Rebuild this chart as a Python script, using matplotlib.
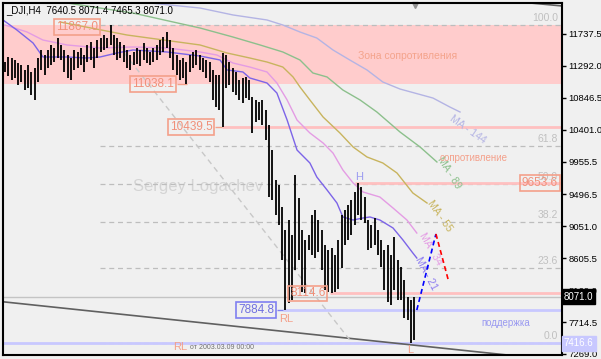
import matplotlib.pyplot as plt

plt.rcParams['font.family'] = ['Liberation Sans', 'DejaVu Sans']

header = '_DJI,H4  7640.5 8071.4 7465.3 8071.0'

# H4 bars, high / low per bar (oldest first)
highs = [11346, 11416, 11402, 11374, 11332, 11305, 11235, 11305, 11207, 11262,
         11402, 11514, 11444, 11514, 11584, 11542, 11681, 11584, 11514, 11444,
         11402, 11514, 11486, 11542, 11444, 11584, 11626, 11542, 11653, 11681,
         11723, 11681, 11867, 11723, 11681, 11626, 11584, 11514, 11444, 11486,
         11542, 11514, 11612, 11542, 11486, 11542, 11584, 11653, 11695, 11765,
         11653, 11542, 11444, 11374, 11402, 11346, 11444, 11486, 11514, 11444,
         11402, 11374, 11346, 11235, 11165, 11165, 11472, 11444, 11346, 11262,
         11207, 11095, 11123, 11137, 11095, 10857, 10816, 10788, 10816, 10676,
         10467, 10117, 9698, 9629, 9321, 9000, 9140, 8930, 9768, 9447,
         9000, 8861, 8930, 9210, 9280, 9140, 9000, 8791, 8721, 8749,
         8651, 8861, 9210, 9280, 9349, 9419, 9531, 9653.6, 9601, 9461,
         9140, 9070, 9168, 9000, 8861, 8721, 8791, 8651, 8903, 8581,
         8484, 8303, 8065, 8023, 8071.4]
lows = [11207, 11151, 11095, 11123, 11025, 11067, 10955, 10983, 10885, 10816,
        11067, 11235, 11165, 11262, 11305, 11346, 11402, 11374, 11207, 11123,
        11095, 11235, 11262, 11305, 11207, 11346, 11374, 11262, 11402, 11486,
        11514, 11542, 11584, 11444, 11374, 11402, 11346, 11262, 11235, 11305,
        11318, 11290, 11374, 11332, 11305, 11346, 11374, 11444, 11486, 11542,
        11402, 11235, 11165, 11095, 11123, 11038.1, 11207, 11262, 11305, 11235,
        11207, 11123, 11067, 10816, 10718, 10676, 10439.5, 10983, 11025, 10927,
        10885, 10816, 10774, 10843, 10816, 10355, 10508, 10536, 10467, 10257,
        9461, 9419, 9210, 9070, 8581, 7884.8, 7981, 8023, 8442, 8581,
        8134, 8114.6, 8721, 8651, 8609, 8693, 8442, 8162, 8140, 8114.6,
        8130, 8180, 8470, 8791, 8861, 8930, 9070, 9210, 9140, 9098,
        8721, 8749, 8791, 8651, 8484, 8162, 7995, 7953, 8162, 8023,
        8023, 7771, 7743, 7416.6, 7465.3]

# moving averages read at sample bar positions (shifted forward on the chart)
ma21_x = [-0.6, 3.6, 8.5, 11.5, 18.8, 24.8, 28.8, 33.9, 38.8, 49.1, 59.1, 65.2,
          67.3, 72.1, 74.2, 79.4, 82.4, 85.5, 88.5, 92.4, 94.5, 97.6, 100.6,
          102.4, 105.5, 108.5, 110.6, 113.6, 117.6, 120.6, 123.6, 124.8]
ma21_y = [11933, 11793, 11612, 11416, 11416, 11402, 11416, 11472, 11514, 11486,
          11430, 11374, 11235, 11207, 11123, 11053, 10913, 10536, 10117, 9936,
          9740, 9559, 9377, 9182, 9140, 9168, 9182, 9140, 9028, 8861, 8679, 8609]
ma34_x = [0, 6.7, 11.5, 18.8, 28.8, 38.8, 49.1, 59.1, 64.2, 69.1, 74.2, 79.4,
          82.4, 85.5, 88.5, 92.4, 96.4, 99.4, 102.4, 105.5, 108.5, 113.6, 117.6,
          121.8, 124.8]
ma34_y = [11863, 11765, 11653, 11584, 11542, 11556, 11542, 11486, 11444, 11332,
          11276, 11207, 11053, 10816, 10536, 10355, 10215, 10075, 9838, 9657,
          9531, 9461, 9307, 9140, 8958]
ma55_x = [16.7, 37.0, 59.1, 67.3, 74.2, 79.4, 84.2, 87.3, 89.4, 92.4, 96.4,
          101.5, 105.5, 109.7, 114.5, 118.8, 123.6, 127.9]
ma55_y = [11905, 11723, 11584, 11472, 11402, 11346, 11276, 11137, 10997, 10816,
          10578, 10355, 10159, 10020, 9936, 9796, 9517, 9377]
ma89_x = [18.8, 38.8, 59.1, 69.1, 77.3, 84.2, 89.4, 93.3, 97.6, 102.4, 107.6,
          112.7, 119.7, 125.8, 130.9]
ma89_y = [12170, 12030, 11821, 11695, 11584, 11486, 11374, 11193, 11137, 10955,
          10816, 10648, 10369, 10159, 9950]
ma144_x = [43.9, 59.1, 69.1, 79.4, 84.2, 89.4, 94.5, 99.4, 104.5, 109.7, 114.5,
           119.7, 129.7, 134.8, 137.9]
ma144_y = [12170, 12100, 12003, 11933, 11863, 11765, 11681, 11514, 11374, 11235,
           11067, 10969, 10843, 10718, 10648]

zone_low, zone_high = 11038.1, 11867.0
fibo_high, fibo_low = 11867.0, 7416.6
fibo_levels = [0.0, 23.6, 38.2, 50.0, 61.8, 100.0]
resist_levels = [10439.5, 9653.6, 8114.6]
resist_start = [65.8, 106.0, 98.5]
support_level = 7884.8
bid = 8071.0

price_ticks = [11737.5, 11292.0, 10846.5, 10401.0, 9955.5, 9496.5, 9051.0,
               8605.5, 8160.0, 7714.5, 7269.0]

salmon = '#F0907A'

fig = plt.figure(figsize=(6.01, 3.59), dpi=100, facecolor='#F0F0F0')
ax = fig.add_axes([3 / 601, 4 / 359, 559 / 601, 352 / 359])
ax.set_facecolor('#F0F0F0')
ax.set_xlim(-0.6, 168.8)
ax.set_ylim(7254.8, 12170.1)
ax.set_xticks([])
ax.yaxis.tick_right()
ax.set_yticks(price_ticks)
ax.set_yticklabels(['%.1f' % t for t in price_ticks])
ax.tick_params(axis='y', direction='out', length=3, width=1, pad=1.5, labelsize=6.8)
for s in ax.spines.values():
    s.set_linewidth(1.5)

# resistance zone
ax.axhspan(zone_low, zone_high, color='#FFCCCC', lw=0, zorder=0)
ax.text(122.1, 11430, 'Зона сопротивления', color='#F4A48C', fontsize=7.5,
        ha='center', va='center')

# fibo levels
for lvl in fibo_levels:
    p = fibo_low + lvl / 100 * (fibo_high - fibo_low)
    ax.hlines(p, 28.8, 168.8, colors='#BDBDBD', linestyles=(0, (4, 3)), lw=0.9, zorder=1)
    ax.annotate('%.1f' % lvl, xy=(167.6, p), xytext=(0, 1.5), textcoords='offset points',
                ha='right', va='bottom', color='#C0C0C0', fontsize=7.5)

# horizontal levels
ax.axhline(bid, color='#C4C4C4', lw=1, zorder=1)
ax.axhline(fibo_low, color='#C8C8FF', lw=2, zorder=1)
for lvl, x0 in zip(resist_levels, resist_start):
    ax.hlines(lvl, x0, 168.8, colors='#FFC0C0', lw=2, zorder=1)
ax.hlines(support_level, 84.2, 168.8, colors='#C8C8FF', lw=2, zorder=1)

# trend line and channel
ax.axline((0, 7995), (160, 7217), color='#606060', lw=1.2, zorder=1)
ax.plot([156, 169], [12184, 12128], color='#606060', lw=1.2)
ax.plot([34.2, 104.5], [11584, 7465], color='#C8C8C8', ls=(0, (4, 3)), lw=1, zorder=1)
ax.plot([124.2], [12142], marker='v', color='#909090', ms=5, clip_on=False)

# moving averages
ma_styles = [(ma144_x, ma144_y, '#B4B4E4'), (ma89_x, ma89_y, '#8CC08C'),
             (ma55_x, ma55_y, '#C8B45E'), (ma34_x, ma34_y, '#E49CE4'),
             (ma21_x, ma21_y, '#7C64E8')]
for xs, ys, c in ma_styles:
    ax.plot(xs, ys, color=c, lw=1, zorder=2)

ax.text(140.3, 10397, 'MA - 144', color='#B4B4E4', fontsize=7.5, rotation=-35,
        ha='center', va='center')
ax.text(134.5, 9796, 'MA - 89', color='#8CC08C', fontsize=7.5, rotation=-58,
        ha='center', va='center')
ax.text(131.8, 9196, 'MA - 55', color='#C8B45E', fontsize=7.5, rotation=-55,
        ha='center', va='center')
ax.text(129.1, 8735, 'MA - 34', color='#E49CE4', fontsize=7.5, rotation=-60,
        ha='center', va='center')
ax.text(127.6, 8400, 'MA - 21', color='#8C7CF0', fontsize=7.5, rotation=-62,
        ha='center', va='center')

# bars
idx = list(range(len(highs)))
ax.vlines(idx, lows, highs, colors='black', lw=1.3, zorder=3)

# forecast
ax.plot([124.8, 130.6], [7883, 8945], color='#0000FF', ls=(0, (3, 2)), lw=1.2, zorder=4)
ax.plot([130.6, 134.5], [8945, 8274], color='#FF0000', ls=(0, (3, 2)), lw=1.2, zorder=4)

# price boxes
box = dict(boxstyle='square,pad=0.15', fc='none', ec='#F4A08A', lw=1.2)
ax.text(21.8, fibo_high - 30, '11867.0', color=salmon, fontsize=8.5, ha='center',
        va='center', bbox=box, zorder=5)
ax.text(44.8, zone_low, '11038.1', color=salmon, fontsize=8.5, ha='center',
        va='center', bbox=box, zorder=5)
ax.hlines(zone_low, 52.1, 55.2, colors='#F4A08A', lw=1)
ax.text(56.4, 10439.5, '10439.5', color=salmon, fontsize=8.5, ha='center',
        va='center', bbox=box, zorder=5)
ax.hlines(10439.5, 63.6, 65.8, colors='#F4A08A', lw=1)
ax.text(162.1, 9653.6, '9653.6', color=salmon, fontsize=8.5, ha='center',
        va='center', bbox=box, zorder=5)
ax.text(91.8, 8114.6, '8114.6', color=salmon, fontsize=8.5, ha='center',
        va='center', bbox=box, zorder=5)
ax.text(76.1, support_level, '7884.8', color='#7070E0', fontsize=8.5, ha='center',
        va='center', zorder=5,
        bbox=dict(boxstyle='square,pad=0.15', fc='none', ec='#8080F0', lw=1.2))
ax.hlines(support_level, 82.4, 84.2, colors='#8080F0', lw=1)

# other labels
ax.text(58.5, 9601, 'Sergey Logachev', color='#D4D4D4', fontsize=12,
        ha='center', va='center', zorder=0.5)
ax.text(142.1, 10006, 'сопротивление', color='#F4A08A', fontsize=7,
        ha='center', va='center')
ax.text(151.8, 7702, 'поддержка', color='#9A9AF0', fontsize=7,
        ha='center', va='center')
ax.text(107.3, 9740, 'H', color='#9C9CF0', fontsize=8, ha='center', va='center')
ax.text(122.7, 7325, 'L', color='#F4A08A', fontsize=8, ha='center', va='center')
ax.text(85.2, 7757, 'RL', color='#F4A08A', fontsize=8, ha='center', va='center')
ax.text(53, 7366, 'RL', color='#F4A08A', fontsize=8, ha='center', va='center')
ax.text(56.1, 7366, 'от 2003.03.09 00:00', color='#707070', fontsize=5,
        ha='left', va='center')

# right-axis markers
yt = ax.get_yaxis_transform()
ax.text(1.003, bid, '8071.0', transform=yt, color='white', fontsize=7, va='center',
        ha='left', clip_on=False, zorder=10,
        bbox=dict(boxstyle='square,pad=0.22', fc='black', ec='black'))
ax.text(1.003, fibo_low, '7416.6', transform=yt, color='white', fontsize=7,
        va='center', ha='left', clip_on=False, zorder=10,
        bbox=dict(boxstyle='square,pad=0.22', fc='#C8C8FF', ec='#C8C8FF'))

fig.text(6 / 601, 1 - 10 / 359, header, fontsize=7, va='center', ha='left')

fig.savefig('out.png', dpi=100, facecolor=fig.get_facecolor())
